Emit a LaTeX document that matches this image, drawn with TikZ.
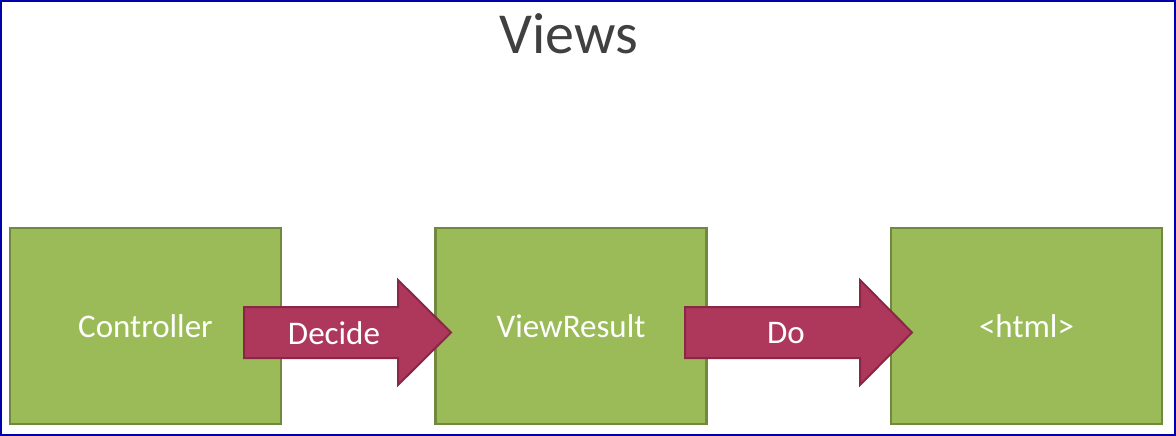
\documentclass[tikz,border=0pt]{standalone}
\usepackage{fontspec}
\setmainfont{Carlito}
\definecolor{boxfill}{RGB}{155,187,89}
\definecolor{boxline}{RGB}{113,137,63}
\definecolor{arrfill}{RGB}{174,56,92}
\definecolor{arrline}{RGB}{136,40,70}
\definecolor{frameblue}{RGB}{0,0,170}
\definecolor{titlegray}{RGB}{64,64,64}
\begin{document}
\begin{tikzpicture}[x=1pt,y=-1pt,
  greenbox/.style={draw=boxline,fill=boxfill,line width=2.8pt,minimum width=271pt,minimum height=196pt,inner sep=0pt,text=white,font=\fontsize{33}{38}\selectfont},
  blockarrow/.style={draw=arrline,fill=arrfill,line width=2pt,line join=miter},
  arrlabel/.style={text=white,font=\fontsize{33}{38}\selectfont,inner sep=0pt}]
\useasboundingbox (0,0) rectangle (1176,436);
\fill[white] (0,0) rectangle (1176,436);
\draw[frameblue,line width=1.6pt] (0.8,0.8) rectangle (1175,435.2);
\node[text=titlegray,font=\fontsize{58}{66}\selectfont,inner sep=0pt] (title) at (569,34) {Views};
\node[greenbox] (ctrl) at (145.5,326) {Controller};
\node[greenbox] (vr) at (571,326) {ViewResult};
\node[greenbox] (html) at (1026.5,326) {<html>};
% Decide arrow
\coordinate (d1) at (244,307);
\coordinate (d2) at (398,307);
\coordinate (d3) at (398,280);
\coordinate (dtip) at (451,332.5);
\coordinate (d5) at (398,385);
\coordinate (d6) at (398,358);
\coordinate (d7) at (244,358);
\draw[blockarrow] (d1) -- (d2) -- (d3) -- (dtip) -- (d5) -- (d6) -- (d7) -- cycle;
\node[arrlabel] (decide) at (334,333) {Decide};
% Do arrow
\coordinate (o1) at (685,307);
\coordinate (o2) at (860,307);
\coordinate (o3) at (860,280);
\coordinate (otip) at (912,332.5);
\coordinate (o5) at (860,385);
\coordinate (o6) at (860,358);
\coordinate (o7) at (685,358);
\draw[blockarrow] (o1) -- (o2) -- (o3) -- (otip) -- (o5) -- (o6) -- (o7) -- cycle;
\node[arrlabel] (do) at (786,333) {Do};
\end{tikzpicture}
\end{document}
